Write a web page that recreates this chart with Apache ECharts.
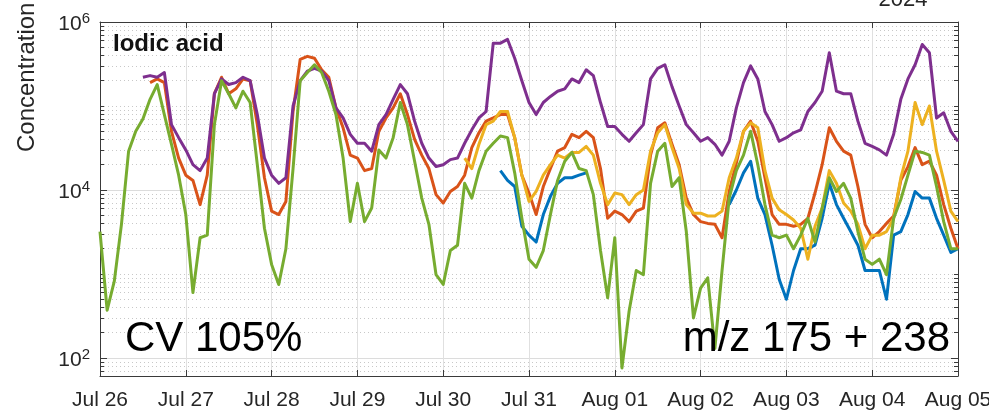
<!DOCTYPE html>
<html><head><meta charset="utf-8">
<script src="https://cdn.jsdelivr.net/npm/echarts@6.0.0/dist/echarts.min.js"></script>
<style>html,body{margin:0;padding:0;background:#fff}#c{width:989px;height:411px}</style>
</head><body><div id="c"></div>
<script>
// hours since Jul 26 2024 00:00
const hours = [0,2,4,6,8,10,12,14,16,18,
 20,22,24,26,28,30,32,34,36,38,
 40,42,44,46,48,50,52,54,56,58,
 60,62,64,66,68,70,72,74,76,78,
 80,82,84,86,88,90,92,94,96,98,
 100,102,104,106,108,110,112,114,116,118,
 120,122,124,126,128,130,132,134,136,138,
 140,142,144,146,148,150,152,154,156,158,
 160,162,164,166,168,170,172,174,176,178,
 180,182,184,186,188,190,192,194,196,198,
 200,202,204,206,208,210,212,214,216,218,
 220,222,224,226,228,230,232,234,236,238,
 240];
const dayLabels = ['Jul 26','Jul 27','Jul 28','Jul 29','Jul 30','Jul 31','Aug 01','Aug 02','Aug 03','Aug 04','Aug 05'];
const yMajor = [1e2, 1e4, 1e6];
const yMinor = [70,80,90,200,300,400,500,600,700,800,900,1000,2000,3000,4000,5000,6000,7000,8000,9000,
 2e4,3e4,4e4,5e4,6e4,7e4,8e4,9e4,1e5,2e5,3e5,4e5,5e5,6e5,7e5,8e5,9e5];

const blue = [null,null,null,null,null,null,null,null,null,null,
 null,null,null,null,null,null,null,null,null,null,
 null,null,null,null,null,null,null,null,null,null,
 null,null,null,null,null,null,null,null,null,null,
 null,null,null,null,null,null,null,null,null,null,
 null,null,null,null,null,null,1.7e4,1.3e4,1.1e4,3.7e3,
 2.9e3,2.4e3,5.1e3,8.4e3,1.2e4,1.4e4,1.4e4,1.5e4,1.6e4,null,
 null,null,null,null,null,null,null,null,null,null,
 null,null,null,null,null,null,null,null,6.7e3,1.0e4,
 1.6e4,2.2e4,8.0e3,5.1e3,2.2e3,8.6e2,5.0e2,1.1e3,2.0e3,2.0e3,
 2.2e3,4.6e3,1.2e4,6.7e3,4.6e3,3.2e3,2.2e3,1.1e3,1.1e3,1.1e3,
 5.0e2,2.9e3,3.2e3,5.1e3,9.6e3,8.0e3,8.0e3,4.6e3,2.9e3,1.8e3,
 2.0e3];

const orange = [null,null,null,null,null,null,null,1.9e5,2.1e5,1.9e5,
 5.0e4,2.4e4,1.5e4,1.3e4,6.7e3,1.5e4,1.4e5,2.2e5,1.4e5,1.6e5,
 2.1e5,2.0e5,6.0e4,1.4e4,5.6e3,5.1e3,7.3e3,8.6e4,3.6e5,3.9e5,
 3.7e5,2.7e5,2.2e5,9.5e4,5.5e4,2.6e4,2.4e4,1.7e4,1.8e4,5.0e4,
 7.2e4,9.5e4,1.4e5,7.9e4,4.0e4,2.6e4,1.8e4,8.8e3,7.0e3,9.6e3,
 1.1e4,1.5e4,3.2e4,4.8e4,6.6e4,7.2e4,7.9e4,7.9e4,4.2e4,1.5e4,
 9.2e3,5.1e3,1.1e4,1.8e4,2.9e4,3.2e4,4.6e4,4.2e4,5.0e4,4.2e4,
 1.8e4,4.6e3,5.6e3,5.1e3,4.2e3,5.6e3,6.1e3,2.6e4,5.5e4,6.3e4,
 3.5e4,2.0e4,8.0e3,5.1e3,4.2e3,4.0e3,3.9e3,2.7e3,9.6e3,2.1e4,
 5.0e4,6.6e4,3.8e4,1.4e4,5.1e3,3.9e3,3.9e3,3.7e3,3.9e3,4.6e3,
 9.2e3,2.0e4,5.5e4,3.8e4,2.9e4,2.6e4,1.1e4,3.9e3,2.7e3,3.2e3,
 4.0e3,4.9e3,1.3e4,1.9e4,3.2e4,2.0e4,2.2e4,1.5e4,6.7e3,3.5e3,
 2.0e3];

const yellow = [null,null,null,null,null,null,null,null,null,null,
 null,null,null,null,null,null,null,null,null,null,
 null,null,null,null,null,null,null,null,null,null,
 null,null,null,null,null,null,null,null,null,null,
 null,null,null,null,null,null,null,null,null,null,
 null,2.4e4,1.8e4,3.5e4,6.0e4,6.6e4,8.6e4,8.6e4,4.2e4,1.5e4,
 7.3e3,9.6e3,1.5e4,2.0e4,2.6e4,2.4e4,2.8e4,2.8e4,3.3e4,2.6e4,
 1.2e4,6.7e3,9.2e3,8.8e3,6.7e3,8.8e3,1.0e4,2.9e4,4.8e4,6.0e4,
 3.2e4,1.8e4,6.7e3,5.3e3,5.3e3,4.9e3,4.9e3,5.6e3,1.4e4,2.4e4,
 5.0e4,6.3e4,5.5e4,1.7e4,8.0e3,5.8e3,5.1e3,4.4e3,3.5e3,1.5e3,
 3.7e3,6.1e3,1.7e4,1.2e4,7.0e3,5.6e3,3.9e3,2.0e3,2.9e3,2.9e3,
 3.2e3,4.6e3,1.4e4,2.9e4,1.1e5,6.0e4,1.0e5,2.9e4,1.3e4,5.6e3,
 4.2e3];

const purple = [null,null,null,null,null,null,2.2e5,2.3e5,2.2e5,2.5e5,
 6.0e4,4.2e4,3.0e4,2.0e4,1.7e4,2.4e4,1.4e5,2.1e5,1.8e5,1.9e5,
 2.2e5,2.0e5,7.9e4,2.4e4,1.5e4,1.2e4,1.4e4,1.0e5,2.0e5,2.6e5,
 2.8e5,2.6e5,2.0e5,9.5e4,7.2e4,4.6e4,3.6e4,3.6e4,2.9e4,6.0e4,
 7.9e4,1.2e5,1.8e5,1.4e5,6.6e4,3.6e4,2.4e4,1.9e4,2.0e4,2.3e4,
 2.4e4,3.6e4,5.2e4,7.2e4,8.6e4,5.6e5,5.6e5,6.2e5,3.7e5,2.0e5,
 1.1e5,7.9e4,1.1e5,1.3e5,1.5e5,1.6e5,2.1e5,1.9e5,2.7e5,2.3e5,
 1.1e5,5.7e4,5.7e4,4.6e4,3.8e4,4.8e4,6.0e4,2.1e5,2.8e5,3.1e5,
 1.7e5,1.0e5,6.0e4,4.8e4,3.8e4,4.2e4,3.5e4,2.6e4,3.8e4,9.5e4,
 1.9e5,3.0e5,2.1e5,8.6e4,6.0e4,3.8e4,4.2e4,4.8e4,5.2e4,8.6e4,
 1.1e5,1.5e5,4.3e5,1.5e5,1.4e5,1.4e5,6.6e4,3.6e4,3.3e4,3.0e4,
 2.6e4,4.6e4,1.2e5,2.1e5,3.1e5,5.4e5,4.3e5,7.2e4,8.3e4,5.0e4,
 3.8e4];

const green = [3.2e3,3.7e2,8.2e2,3.9e3,2.9e4,5.0e4,7.0e4,1.2e5,1.8e5,7.9e4,
 3.5e4,1.5e4,5.1e3,6.0e2,2.7e3,2.9e3,6.0e4,2.0e5,1.4e5,9.5e4,
 1.5e5,1.1e5,2.0e4,3.5e3,1.3e3,7.5e2,2.0e3,1.8e4,2.0e5,2.5e5,
 3.1e5,2.5e5,1.5e5,7.9e4,2.4e4,4.2e3,1.2e4,4.2e3,6.1e3,3.0e4,
 2.4e4,4.2e4,1.1e5,6.0e4,2.2e4,8.0e3,3.9e3,9.8e2,7.5e2,1.9e3,
 2.2e3,1.2e4,8.0e3,1.7e4,2.9e4,3.6e4,4.4e4,4.2e4,1.6e4,4.6e3,
 1.5e3,1.2e3,1.9e3,5.1e3,1.3e4,2.2e4,2.8e4,1.8e4,1.7e4,8.8e3,
 1.9e3,5.2e2,2.7e3,76,3.6e2,1.1e3,9.8e2,1.2e4,2.9e4,3.6e4,
 1.1e4,1.4e4,3.2e3,3.0e2,6.8e2,9.0e2,1.3e2,1.1e3,8.0e3,1.7e4,
 2.6e4,5.0e4,2.0e4,6.7e3,2.9e3,2.7e3,2.9e3,2.0e3,2.9e3,4.6e3,
 2.4e3,6.1e3,1.4e4,9.6e3,1.2e4,8.0e3,3.2e3,1.5e3,1.3e3,1.5e3,
 9.8e2,4.6e3,7.7e3,1.5e4,2.9e4,2.8e4,2.6e4,1.1e4,4.2e3,2.0e3,
 2.0e3];

const FONT = 'Liberation Sans';
const TXT = '#262626';
const AX = '#3a3a3a';
const yMin = 61, yMax = 1e6;

function pts(vals) { return hours.map((h, i) => [h, vals[i]]); }
function mkSeries(name, vals, color) {
  return { name, type: 'line', data: pts(vals), xAxisIndex: 0, yAxisIndex: 0,
    showSymbol: false, symbol: 'none', connectNulls: false, clip: true,
    lineStyle: { color, width: 3, join: 'round' }, itemStyle: { color } };
}

const chart = echarts.init(document.getElementById('c'), null, { renderer: 'canvas' });
const logBase = { type: 'log', logBase: 10, min: yMin, max: yMax,
  minorTick: { show: false }, minorSplitLine: { show: false } };

chart.setOption({
  animation: false,
  backgroundColor: '#fff',
  grid: { left: 100, right: 31, top: 22, bottom: 35, containLabel: false, outerBoundsMode: 'none' },
  xAxis: [
    { type: 'value', min: 0, max: 240, interval: 24, position: 'bottom',
      axisLine: { show: true, onZero: false, lineStyle: { color: AX, width: 1 } },
      axisTick: { show: true, inside: true, length: 6, lineStyle: { color: AX } },
      axisLabel: { formatter: v => dayLabels[Math.round(v / 24)], fontSize: 21, fontFamily: FONT, color: TXT, margin: 14 },
      splitLine: { show: true, lineStyle: { color: '#e0e0e0', width: 1 } } },
    { type: 'value', min: 0, max: 240, interval: 24, position: 'top',
      axisLine: { show: true, onZero: false, lineStyle: { color: AX, width: 1 } },
      axisTick: { show: true, inside: true, length: 6, lineStyle: { color: AX } },
      axisLabel: { show: false }, splitLine: { show: false } }
  ],
  yAxis: [
    Object.assign({}, logBase, { position: 'left',
      axisLine: { show: true, onZero: false, lineStyle: { color: AX, width: 1 } },
      axisTick: { show: true, inside: true, length: 7, customValues: yMajor, lineStyle: { color: AX } },
      axisLabel: { customValues: yMajor, margin: 10,
        formatter: v => '{b|10}{e|' + Math.round(Math.log10(v)) + '}',
        rich: { b: { fontSize: 21, fontFamily: FONT, color: TXT, padding: [5, 0, 0, 0] },
                e: { fontSize: 15, fontFamily: FONT, color: TXT, padding: [0, 0, 6, 0] } } },
      splitLine: { show: true, lineStyle: { color: '#dcdcdc', width: 1 } } }),
    Object.assign({}, logBase, { position: 'left',
      axisLine: { show: false, onZero: false },
      axisTick: { show: true, inside: true, length: 4, customValues: yMinor, lineStyle: { color: AX } },
      axisLabel: { show: false },
      splitLine: { show: true, lineStyle: { color: '#c8c8c8', width: 1, type: [1, 3] } } }),
    Object.assign({}, logBase, { position: 'right',
      axisLine: { show: true, onZero: false, lineStyle: { color: AX, width: 1 } },
      axisTick: { show: true, inside: true, length: 7, customValues: yMajor, lineStyle: { color: AX } },
      axisLabel: { show: false }, splitLine: { show: false } }),
    Object.assign({}, logBase, { position: 'right',
      axisLine: { show: false, onZero: false },
      axisTick: { show: true, inside: true, length: 4, customValues: yMinor, lineStyle: { color: AX } },
      axisLabel: { show: false }, splitLine: { show: false } })
  ],
  series: [
    mkSeries('blue', blue, '#0072BD'),
    mkSeries('orange', orange, '#D95319'),
    mkSeries('yellow', yellow, '#EDB120'),
    mkSeries('purple', purple, '#7E2F8E'),
    mkSeries('green', green, '#77AC30')
  ],
  graphic: [
    { type: 'text', x: 113, y: 44, z: 100,
      style: { text: 'Iodic acid', font: 'bold 24px "Liberation Sans"', fill: '#111', textAlign: 'left', textVerticalAlign: 'middle' } },
    { type: 'text', x: 125, y: 339, z: 100,
      style: { text: 'CV 105%', font: '42px "Liberation Sans"', fill: '#000', textAlign: 'left', textVerticalAlign: 'middle' } },
    { type: 'text', x: 950, y: 339, z: 100,
      style: { text: 'm/z 175 + 238', font: '42px "Liberation Sans"', fill: '#000', textAlign: 'right', textVerticalAlign: 'middle' } },
    { type: 'text', x: 903, y: 0, z: 100,
      style: { text: '2024', font: '22px "Liberation Sans"', fill: TXT, textAlign: 'center', textVerticalAlign: 'middle' } },
    { type: 'text', x: 27, y: 152, rotation: Math.PI / 2, z: 100,
      style: { text: 'Concentration', font: '24px "Liberation Sans"', fill: TXT, textAlign: 'left', textVerticalAlign: 'middle' } }
  ]
});
</script></body></html>
